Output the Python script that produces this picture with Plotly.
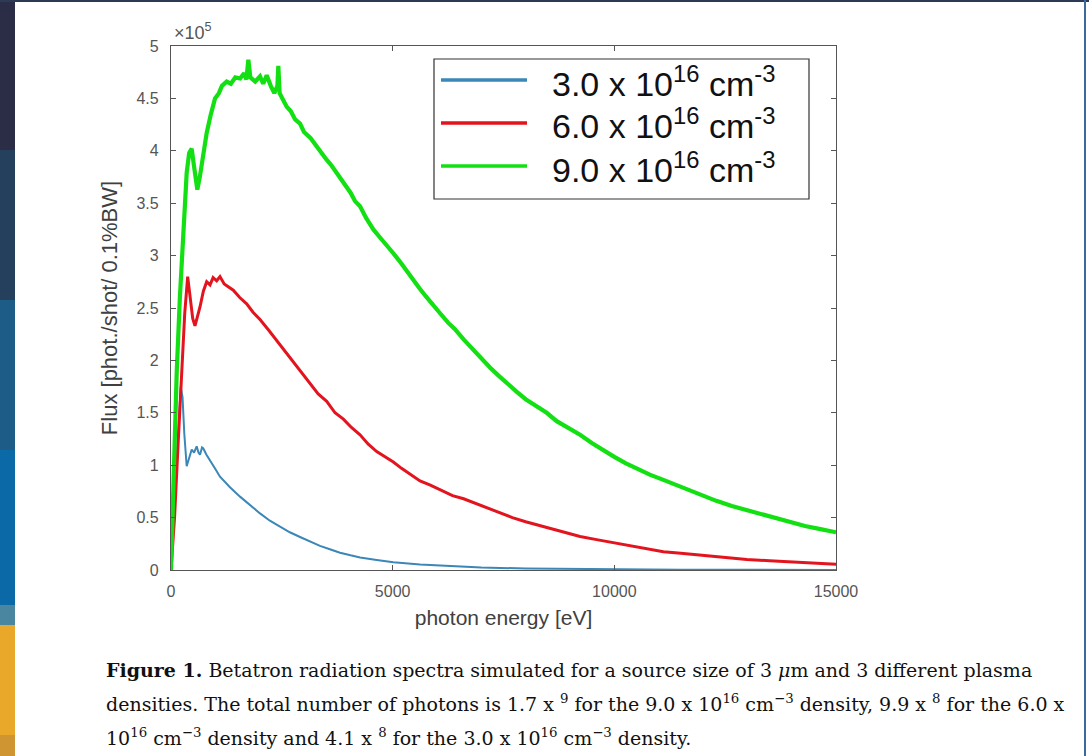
import plotly.graph_objects as go

# ---------------- data (flux in units of 1e5 phot./shot/0.1%BW) ----------------
series_names = ["3.0 x 10<sup>16</sup> cm<sup>-3</sup>",
                "6.0 x 10<sup>16</sup> cm<sup>-3</sup>",
                "9.0 x 10<sup>16</sup> cm<sup>-3</sup>"]
series_colors = ["#3a87b8", "#e3141e", "#12e012"]

blue_x = [0, 60, 120, 180, 219, 260, 300, 354, 410, 467, 520, 579, 620, 654, 700, 729, 800,
          880, 990, 1105, 1330, 1557, 1780, 2008, 2230, 2459, 2680, 2910, 3130, 3361, 3600,
          3813, 4050, 4264, 4640, 5015, 5617, 6300, 7000, 8000, 9000, 10000, 11500, 13000, 15000]
blue_y = [0, 0.5, 1.05, 1.55, 1.75, 1.65, 1.30, 0.99, 1.08, 1.15, 1.12, 1.18, 1.12, 1.10, 1.17,
          1.16, 1.10, 1.05, 0.97, 0.89, 0.79, 0.70, 0.62, 0.54, 0.47, 0.41, 0.36, 0.315, 0.27,
          0.23, 0.195, 0.165, 0.14, 0.12, 0.095, 0.073, 0.052, 0.035, 0.024, 0.014, 0.009,
          0.006, 0.003, 0.002, 0.001]

red_x = [0, 80, 160, 240, 310, 376, 430, 490, 541, 600, 654, 730, 805, 880, 950, 1030, 1105,
         1200, 1300, 1405, 1550, 1707, 1850, 2008, 2200, 2384, 2570, 2760, 2950, 3136, 3320,
         3512, 3700, 3888, 4070, 4264, 4450, 4640, 4830, 5015, 5200, 5400, 5617, 5850, 6100,
         6350, 6600, 6850, 7107, 7400, 7700, 8000, 8350, 8676, 9000, 9227, 9600, 10000, 10400,
         10800, 11106, 11500, 12000, 12500, 12988, 13500, 14000, 14500, 15000]
red_y = [0, 0.5, 1.2, 1.9, 2.45, 2.80, 2.62, 2.40, 2.33, 2.42, 2.51, 2.66, 2.75, 2.72, 2.79,
         2.76, 2.80, 2.73, 2.70, 2.67, 2.60, 2.54, 2.46, 2.39, 2.29, 2.19, 2.09, 1.98, 1.88,
         1.78, 1.68, 1.61, 1.50, 1.44, 1.36, 1.29, 1.20, 1.13, 1.08, 1.03, 0.97, 0.91, 0.85,
         0.81, 0.76, 0.71, 0.68, 0.64, 0.60, 0.55, 0.50, 0.46, 0.42, 0.39, 0.35, 0.32, 0.29,
         0.26, 0.235, 0.20, 0.175, 0.16, 0.14, 0.12, 0.10, 0.088, 0.076, 0.065, 0.055]

green_x = [0, 60, 130, 200, 278, 354, 410, 467, 520, 594, 650, 720, 805, 900, 993, 1080, 1150,
           1256, 1350, 1450, 1557, 1650, 1700, 1745, 1790, 1900, 2008, 2080, 2159, 2250, 2330,
           2400, 2421, 2450, 2520, 2610, 2700, 2800, 2910, 3000, 3150, 3250, 3361, 3500, 3620,
           3738, 3900, 4050, 4150, 4264, 4400, 4564, 4700, 4850, 5000, 5150, 5317, 5450, 5600,
           5750, 5900, 6069, 6250, 6400, 6600, 6821, 7000, 7200, 7400, 7573, 7800, 8000, 8250,
           8474, 8700, 8950, 9227, 9500, 9750, 10000, 10250, 10500, 10800, 11106, 11400, 11700,
           12000, 12300, 12650, 12988, 13300, 13650, 14000, 14300, 14650, 15000]
green_y = [0, 0.9, 1.9, 2.6, 3.15, 3.79, 3.98, 4.02, 3.85, 3.63, 3.75, 3.95, 4.17, 4.35, 4.50,
           4.55, 4.62, 4.66, 4.64, 4.70, 4.69, 4.74, 4.68, 4.87, 4.70, 4.66, 4.71, 4.64, 4.72,
           4.62, 4.55, 4.62, 4.81, 4.55, 4.49, 4.42, 4.38, 4.30, 4.26, 4.18, 4.12, 4.06, 4.01,
           3.92, 3.86, 3.79, 3.68, 3.60, 3.52, 3.47, 3.36, 3.25, 3.18, 3.11, 3.03, 2.95, 2.85,
           2.77, 2.69, 2.61, 2.53, 2.45, 2.36, 2.30, 2.20, 2.10, 2.01, 1.93, 1.85, 1.78, 1.70,
           1.63, 1.56, 1.50, 1.42, 1.36, 1.29, 1.21, 1.14, 1.08, 1.02, 0.97, 0.91, 0.86, 0.81,
           0.76, 0.71, 0.66, 0.61, 0.57, 0.53, 0.49, 0.45, 0.42, 0.39, 0.36]

xtick_vals = [0, 5000, 10000, 15000]
xtick_text = ["0", "5000", "10000", "15000"]
ytick_vals = [0, 0.5, 1, 1.5, 2, 2.5, 3, 3.5, 4, 4.5, 5]
ytick_text = ["0", "0.5", "1", "1.5", "2", "2.5", "3", "3.5", "4", "4.5", "5"]

x_title = "photon energy [eV]"
y_title = "Flux [phot./shot/ 0.1%BW]"
exponent_label = "\u00d710<sup>5</sup>"
caption_lines = [
    "<b>Figure 1.</b> Betatron radiation spectra simulated for a source size of 3 <i>\u03bc</i>m and 3 different plasma",
    "densities. The total number of photons is 1.7 x <sup>9</sup> for the 9.0 x 10<sup>16</sup> cm<sup>\u22123</sup> density, 9.9 x <sup>8</sup> for the 6.0 x",
    "10<sup>16</sup> cm<sup>\u22123</sup> density and 4.1 x <sup>8</sup> for the 3.0 x 10<sup>16</sup> cm<sup>\u22123</sup> density.",
]

# ---------------- layout geometry (pixels) ----------------
W, H = 1089, 756
L, R, T, B = 171, 836, 46, 570


def px(x):
    return (x - L) / (R - L)


def py(y):
    return (B - y) / (B - T)


fig = go.Figure()
for xs, ys, name, col, lw in [(blue_x, blue_y, series_names[0], series_colors[0], 2.0),
                              (red_x, red_y, series_names[1], series_colors[1], 3.0),
                              (green_x, green_y, series_names[2], series_colors[2], 4.2)]:
    fig.add_trace(go.Scatter(x=xs, y=ys, mode="lines", name=name,
                             line=dict(color=col, width=lw), showlegend=False))

axis_common = dict(showline=True, linecolor="#555555", linewidth=1.2, mirror="ticks",
                   ticks="inside", ticklen=5, tickwidth=1, tickcolor="#555555",
                   showgrid=False, zeroline=False,
                   tickfont=dict(family="Liberation Sans, Arial", size=16, color="#555555"))

fig.update_xaxes(range=[0, 15000], tickvals=xtick_vals, ticktext=xtick_text,
                 title=dict(text=x_title, standoff=11,
                            font=dict(family="Liberation Sans, Arial", size=21, color="#404040")),
                 ticklabelstandoff=7, **axis_common)
fig.update_yaxes(range=[0, 5], tickvals=ytick_vals, ticktext=ytick_text,
                 title=dict(text=y_title, standoff=12,
                            font=dict(family="Liberation Sans, Arial", size=22, color="#404040")),
                 ticklabelstandoff=8, **axis_common)

shapes = []
# surrounding slide decoration
strip = [(0, 150, "#2b2d47"), (150, 300, "#25405c"), (300, 450, "#1d5c86"),
         (450, 605, "#0b69a8"), (605, 625, "#4a86a0"), (625, 735, "#e9a82a"), (735, 756, "#cf9532")]
for y0, y1, c in strip:
    shapes.append(dict(type="rect", xref="paper", yref="paper", x0=px(0), x1=px(15),
                       y0=py(y1), y1=py(y0), fillcolor=c, line=dict(width=0), layer="below"))
shapes.append(dict(type="rect", xref="paper", yref="paper", x0=px(0), x1=px(W),
                   y0=py(2), y1=py(0), fillcolor="#2c3b55", line=dict(width=0), layer="below"))
shapes.append(dict(type="rect", xref="paper", yref="paper", x0=px(1084), x1=px(1086),
                   y0=py(H), y1=py(0), fillcolor="#3a6a9e", line=dict(width=0), layer="below"))

# legend box
shapes.append(dict(type="rect", xref="paper", yref="paper", x0=px(434), x1=px(809),
                   y0=py(199), y1=py(59), fillcolor="white",
                   line=dict(color="#333333", width=1.2), layer="above"))
rows = [80, 123, 166]
annotations = []
for i, yrow in enumerate(rows):
    shapes.append(dict(type="line", xref="paper", yref="paper", x0=px(441), x1=px(527),
                       y0=py(yrow), y1=py(yrow), line=dict(color=series_colors[i], width=3.5),
                       layer="above"))
    annotations.append(dict(xref="paper", yref="paper", x=px(550), y=py(yrow + 1),
                            xanchor="left", yanchor="middle", showarrow=False,
                            text=series_names[i],
                            font=dict(family="Liberation Sans, Arial", size=34, color="#111111")))

annotations.append(dict(xref="paper", yref="paper", x=px(172), y=py(31), xanchor="left",
                        yanchor="middle", showarrow=False, text=exponent_label,
                        font=dict(family="Liberation Sans, Arial", size=18, color="#555555")))

for i, (line, yc) in enumerate(zip(caption_lines, [670, 703, 737])):
    annotations.append(dict(xref="paper", yref="paper", x=px(104), y=py(yc), xanchor="left",
                            yanchor="middle", showarrow=False, text=line,
                            font=dict(family="DejaVu Serif, Liberation Serif, serif",
                                      size=19, color="#111111")))

fig.update_layout(width=W, height=H, autosize=False,
                  margin=dict(l=L, r=W - R, t=T, b=H - B, pad=0),
                  paper_bgcolor="white", plot_bgcolor="white",
                  shapes=shapes, annotations=annotations, showlegend=False)

fig.write_html("out.html", config={"displayModeBar": False},
               post_script="document.body.style.margin='0px';document.body.style.overflow='hidden';")
